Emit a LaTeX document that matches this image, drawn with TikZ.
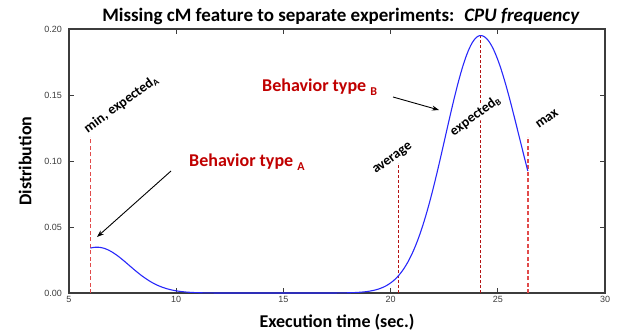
\documentclass[tikz,border=0pt]{standalone}
\usepackage{fontspec}
\setmainfont{Carlito}
\newfontfamily\tickfont{Liberation Sans}
\usetikzlibrary{arrows.meta}
\definecolor{curveblue}{RGB}{40,40,250}
\definecolor{darkline}{RGB}{180,20,20}
\definecolor{lightline}{RGB}{225,75,75}
\definecolor{behred}{RGB}{192,0,0}
\definecolor{axisgray}{RGB}{60,60,60}
\newcommand\lowsub[3]{\raisebox{-#2}{\fontsize{#1}{#1}\selectfont #3}}
\begin{document}
\begin{tikzpicture}[x=1pt,y=-1pt,
  frame/.style={draw=axisgray, line width=1.2pt},
  tickmark/.style={draw=axisgray, line width=0.8pt},
  ticklab/.style={font=\tickfont\fontsize{9}{9}\selectfont, text=axisgray, inner sep=0pt},
  axlab/.style={font=\bfseries\fontsize{18}{18}\selectfont, inner sep=0pt},
  behlab/.style={font=\bfseries\fontsize{18}{18}\selectfont, text=behred, inner sep=0pt},
  markerlab/.style={font=\bfseries\fontsize{14}{14}\selectfont, rotate=36, anchor=south west, inner sep=0.6pt, fill=white},
  darkdash/.style={draw=darkline, line width=0.9pt, dash pattern=on 3pt off 2pt},
  lightdash/.style={draw=lightline, line width=1.5pt, dash pattern=on 4pt off 2.5pt},
  curve/.style={draw=curveblue, line width=1.1pt},
  pointer/.style={draw=black, line width=0.9pt, -{Stealth[length=7pt,width=5pt]}},
]
\useasboundingbox (0,0) rectangle (618,331);
% frame and ticks
\draw[frame] (69,29) rectangle (605,293);
\foreach \v/\y in {0.05/227,0.10/161,0.15/95}{
  \draw[tickmark] (69,\y) -- (74,\y);
  \draw[tickmark] (605,\y) -- (600,\y);
}
\foreach \x in {176.2,283.4,390.6,497.8}{
  \draw[tickmark] (\x,293) -- (\x,288);
  \draw[tickmark] (\x,29) -- (\x,34);
}
% tick labels
\node[ticklab, anchor=east] (y0) at (62,293) {0.00};
\node[ticklab, anchor=east] (y1) at (62,227) {0.05};
\node[ticklab, anchor=east] (y2) at (62,161) {0.10};
\node[ticklab, anchor=east] (y3) at (62,95) {0.15};
\node[ticklab, anchor=east] (y4) at (62,29) {0.20};
\node[ticklab, anchor=north] (x0) at (69,296) {5};
\node[ticklab, anchor=north] (x1) at (176.2,296) {10};
\node[ticklab, anchor=north] (x2) at (283.4,296) {15};
\node[ticklab, anchor=north] (x3) at (390.6,296) {20};
\node[ticklab, anchor=north] (x4) at (497.8,296) {25};
\node[ticklab, anchor=north] (x5) at (605,296) {30};
% axis labels and title
\node[font=\bfseries\fontsize{19}{19}\selectfont, anchor=base, inner sep=0pt] (title) at (341,22)
  {Missing cM feature to separate experiments:~ \textit{CPU frequency}};
\node[axlab, rotate=90] (ylab) at (25,161) {Distribution};
\node[axlab, anchor=base] (xlab) at (337,327) {Execution time (sec.)};
% marker lines
\draw[lightdash] (90.4,293) -- (90.4,137);
\draw[darkdash] (398.1,293) -- (398.1,163);
\draw[darkdash] (480,293) -- (480,35.6);
\draw[lightdash] (527.8,293) -- (527.8,137);
% marker labels
\node[markerlab] (minlab) at (89,136) {min, expected\lowsub{9}{0.3ex}{A}};
\node[markerlab] (avglab) at (377,177) {average};
\node[markerlab] (explab) at (455,139) {expected\lowsub{9}{0.3ex}{B}};
\node[markerlab] (maxlab) at (539,130) {max};
% behaviour labels
\node[behlab, anchor=base west] (behA) at (189,167) {Behavior type \lowsub{12}{0.45ex}{A}};
\node[behlab, anchor=base west] (behB) at (262,92) {Behavior type \lowsub{12}{0.45ex}{B}};
% curve
\draw[curve] plot[domain=6:26.4, samples=300, smooth]
  ({69+21.44*(\x-5)}, {293-1320*(0.0347*exp(-(\x-6.3)^2/4.5) + 0.195*exp(-(\x-24.2)^2/(2*((\x<24.2) ? 1.65 : 1.8)^2)))});
% arrows
\coordinate (tailA) at (171,171);
\coordinate (headA) at (97,237);
\coordinate (tailB) at (393,97);
\coordinate (headB) at (439,110);
\draw[pointer] (tailA) -- (headA);
\draw[pointer] (tailB) -- (headB);
\end{tikzpicture}
\end{document}
